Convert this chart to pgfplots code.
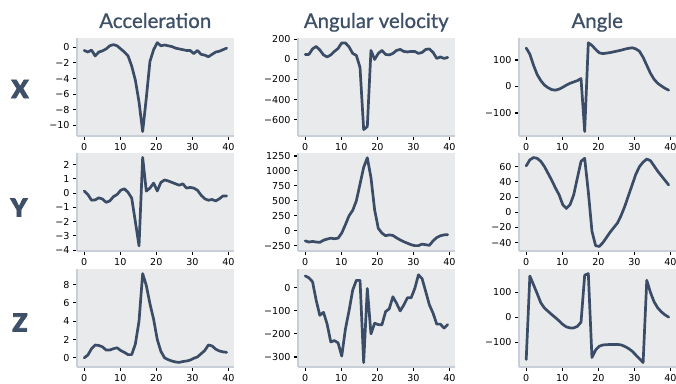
\documentclass[border=0pt]{standalone}
\usepackage{pgfplots}
\usepackage{pgfplotstable}
\pgfplotsset{compat=1.18}
\usepackage{fontspec}
\setmainfont{DejaVu Sans}
\newfontfamily\titlefont{Lato}[FakeBold=0.9]
\newfontfamily\heavyfont{Lato Black}[FakeBold=3]
\definecolor{bgc}{RGB}{233,234,236}
\definecolor{spinec}{RGB}{200,207,216}
\definecolor{linec}{RGB}{58,76,102}
\definecolor{titlec}{RGB}{62,80,104}

\pgfplotstableread{
x ax wx ox ay wy oy az wz oz
0.00 -0.4 50 145 0.14 -170 61 0 50 -168
1.01 -0.6 50 122 -0.1 -190 69 0.3 42 165
2.03 -0.35 105 80 -0.5 -180 72 1.0 25 130
3.04 -1.1 130 45 -0.48 -190 71 1.4 -55 95
4.05 -0.6 95 22 -0.33 -195 67 1.35 -120 58
5.07 -0.45 45 5 -0.42 -160 60 1.2 -107 37
6.08 -0.2 25 -5 -0.65 -140 51 0.85 -158 24
7.09 0.2 45 -12 -0.55 -125 42 0.85 -235 11
8.10 0.35 80 -14 -0.25 -135 32 1.0 -229 -1
9.12 0.2 110 -10 -0.1 -125 23 1.1 -239 -14
10.13 -0.2 165 -3 0.2 -40 10 0.8 -296 -28
11.14 -0.6 165 5 0.3 100 5 0.6 -180 -38
12.16 -1.1 125 12 0.05 250 10 0.35 -100 -42
13.17 -2.4 60 17 -0.35 340 23 0.35 -11 -42
14.18 -4.2 40 22 -2.0 500 45 1.5 31 -36
15.20 -7.0 -80 30 -3.7 780 67 4.0 31 -19
16.21 -10.8 -700 -170 2.5 1060 71 9.2 -324 168
17.22 -6.5 -670 165 0.14 1220 27 7.9 -4 175
18.23 -1.8 90 155 0.35 890 -25 5.9 -200 -160
19.25 -0.3 0 140 0.7 350 -44 4.2 -154 -130
20.26 0.6 60 127 0.15 40 -45 2.0 -160 -115
21.27 0.2 90 124 0.75 -40 -40 0.7 -161 -110
22.29 0.3 50 126 0.92 -85 -33 0.0 -104 -109
23.30 0.2 45 128 0.85 -70 -26 -0.2 -92 -108
24.31 0.1 60 131 0.75 -80 -20 -0.35 -40 -108
25.33 -0.1 90 134 0.65 -120 -14 -0.45 -68 -108
26.34 -0.2 100 137 0.55 -155 -4 -0.5 -101 -110
27.35 -0.3 80 141 0.65 -185 8 -0.4 -75 -116
28.36 -0.4 75 144 0.35 -210 22 -0.35 -44 -124
29.38 -0.4 80 146 0.4 -235 36 -0.25 -44 -135
30.39 -0.8 80 142 0.35 -250 50 -0.05 -4 -150
31.40 -0.4 60 133 0.2 -250 60 0.1 55 -165
32.42 -0.9 70 110 -0.15 -225 66 0.45 38 -180
33.43 -1.0 100 80 -0.4 -235 70 0.8 -18 148
34.44 -1.2 105 50 -0.5 -245 68 1.4 -75 100
35.46 -0.9 70 27 -0.45 -170 61 1.3 -111 62
36.47 -0.6 10 12 -0.55 -115 54 0.95 -158 38
37.48 -0.5 25 2 -0.4 -85 48 0.75 -158 22
38.49 -0.3 10 -7 -0.2 -70 42 0.65 -175 10
39.51 -0.1 20 -14 -0.2 -67 36 0.6 -160 1
}\datatab

\pgfplotsset{
  panel/.style={
    scale only axis, width=156.5bp, height=98bp,
    anchor=north west,
    xmin=-2, xmax=41.4,
    axis background/.style={fill=bgc},
    axis x line*=bottom, axis y line*=left,
    axis line style={draw=spinec, line width=1.3bp, -},
    tick align=outside, major tick length=4bp,
    tick style={black, line width=1.1bp},
    xtick={0,10,20,30,40}, xticklabels={0,10,20,30,40},
    ticklabel style={font=\fontsize{9.6}{11}\selectfont, text=black},
    clip=false,
  },
  ln/.style={draw=linec, line width=2.7bp, line join=round, line cap=round, mark=none},
}

\begin{document}
\begin{tikzpicture}
\useasboundingbox (0,0) rectangle (676bp,384bp);

% Row 1
\begin{axis}[panel, at={(77bp,346bp)}, ymin=-11.37, ymax=1.2,
  ytick={-10,-8,-6,-4,-2,0}, yticklabels={−10,−8,−6,−4,−2,0}]
\addplot[ln] table[x=x,y=ax]{\datatab};
\end{axis}
\begin{axis}[panel, at={(298bp,346bp)}, ymin=-764, ymax=214,
  ytick={-600,-400,-200,0,200}, yticklabels={−600,−400,−200,0,200}]
\addplot[ln] table[x=x,y=wx]{\datatab};
\end{axis}
\begin{axis}[panel, at={(519bp,346bp)}, ymin=-187, ymax=183,
  ytick={-100,0,100}, yticklabels={−100,0,100}]
\addplot[ln] table[x=x,y=ox]{\datatab};
\end{axis}

% Row 2
\begin{axis}[panel, at={(77bp,231bp)}, ymin=-4.06, ymax=2.81,
  ytick={-4,-3,-2,-1,0,1,2}, yticklabels={−4,−3,−2,−1,0,1,2}]
\addplot[ln] table[x=x,y=ay]{\datatab};
\end{axis}
\begin{axis}[panel, at={(298bp,231bp)}, ymin=-340, ymax=1300,
  ytick={-250,0,250,500,750,1000,1250}, yticklabels={−250,0,250,500,750,1000,1250}]
\addplot[ln] table[x=x,y=wy]{\datatab};
\end{axis}
\begin{axis}[panel, at={(519bp,231bp)}, ymin=-51, ymax=78,
  ytick={-40,-20,0,20,40,60}, yticklabels={−40,−20,0,20,40,60}]
\addplot[ln] table[x=x,y=oy]{\datatab};
\end{axis}

% Row 3
\begin{axis}[panel, at={(77bp,115bp)}, ymin=-1.0, ymax=9.7,
  ytick={0,2,4,6,8}, yticklabels={0,2,4,6,8}]
\addplot[ln] table[x=x,y=az]{\datatab};
\end{axis}
\begin{axis}[panel, at={(298bp,115bp)}, ymin=-343, ymax=80,
  ytick={-300,-200,-100,0}, yticklabels={−300,−200,−100,0}]
\addplot[ln] table[x=x,y=wz]{\datatab};
\end{axis}
\begin{axis}[panel, at={(519bp,115bp)}, ymin=-198, ymax=193,
  ytick={-100,0,100}, yticklabels={−100,0,100}]
\addplot[ln] table[x=x,y=oz]{\datatab};
\end{axis}

% Column titles
\node[anchor=base, text=titlec, font=\titlefont\fontsize{20.5}{24}\selectfont, inner sep=0pt] at (155.25bp,356bp) {Acceleration};
\node[anchor=base, text=titlec, font=\titlefont\fontsize{20.5}{24}\selectfont, inner sep=0pt] at (376.25bp,356bp) {Angular velocity};
\node[anchor=base, text=titlec, font=\titlefont\fontsize{20.5}{24}\selectfont, inner sep=0pt] at (597.25bp,356bp) {Angle};

% Row labels
\node[text=titlec, font=\heavyfont\fontsize{25}{28}\selectfont, inner sep=0pt] at (20bp,295bp) {X};
\node[text=titlec, font=\heavyfont\fontsize{25}{28}\selectfont, inner sep=0pt] at (19bp,176.5bp) {Y};
\node[text=titlec, font=\heavyfont\fontsize{25}{28}\selectfont, inner sep=0pt] at (20bp,61.5bp) {Z};
\end{tikzpicture}
\end{document}
